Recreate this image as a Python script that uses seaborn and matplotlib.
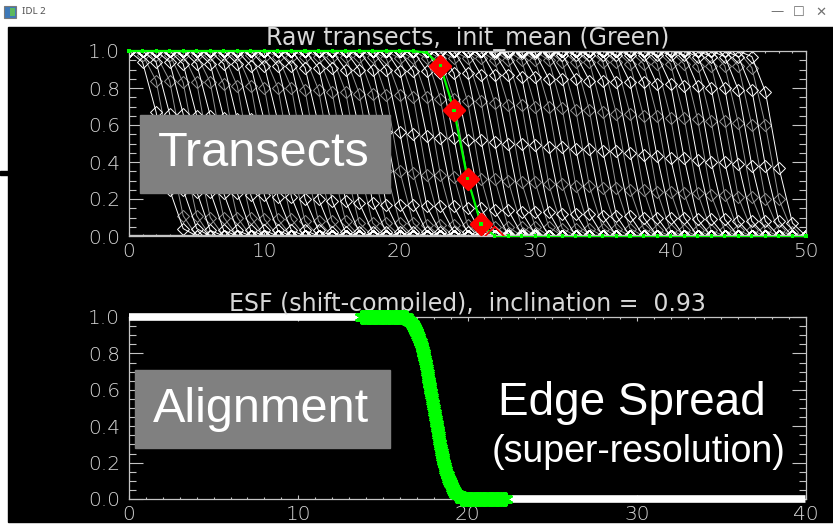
import numpy as np
import pandas as pd
import matplotlib
matplotlib.use("Agg")
import matplotlib.pyplot as plt
from matplotlib.patches import Rectangle
from matplotlib.ticker import MultipleLocator, FormatStrFormatter
import seaborn as sns

# ---------------------------------------------------------------- data
# pixel positions sampled along every transect
pixel_x = list(range(51))

# two interleaved sets of transects (plotted white and grey).
# start: index of the first edge sample (fully bright before it);
# levels: the edge samples (fully dark after them)
white_start = [1, 2, 3, 4, 5, 6, 7, 8, 9, 10, 11, 12, 13, 14, 15, 16, 17, 18, 19,
               20, 21, 22, 23, 24, 25, 26, 27, 27, 28, 29, 30, 31, 32, 33, 34, 35,
               36, 37, 38, 39, 40, 41, 42, 43, 44, 45, 46]
white_levels = [
    [.94, .67, .25, .04], [.94, .66, .25, .04], [.94, .66, .24, .03], [.93, .65, .24, .03],
    [.93, .65, .23, .03], [.93, .64, .23, .03], [.93, .63, .22, .03], [.93, .63, .22, .03],
    [.92, .62, .21, .03], [.92, .62, .21, .03], [.92, .61, .20, .03], [.92, .60, .20, .02],
    [.91, .60, .19, .02], [.91, .59, .19, .02], [.91, .58, .18, .02], [.90, .58, .18, .02],
    [.90, .57, .17, .02], [.90, .56, .17, .02], [.90, .56, .17, .02], [.89, .55, .16, .02],
    [.89, .54, .16, .02], [.89, .53, .16, .02], [.88, .53, .15, .02], [.88, .52, .15, .02],
    [.88, .52, .14, .01], [.87, .51, .14, .01], [.87, .50, .13, .01], [.99, .87, .50, .13],
    [.99, .86, .49, .13], [.99, .86, .48, .12], [.99, .85, .48, .12], [.99, .85, .47, .12],
    [.98, .85, .47, .11], [.98, .84, .46, .11], [.98, .84, .46, .11], [.98, .83, .45, .10],
    [.98, .83, .44, .10], [.98, .83, .43, .10], [.98, .82, .42, .10], [.98, .82, .42, .09],
    [.98, .81, .41, .09], [.98, .81, .40, .09], [.97, .80, .40, .08], [.97, .80, .39, .08],
    [.97, .79, .38, .08], [.97, .79, .38, .08], [.97, .78, .37, .07],
]
grey_start = list(range(1, 47))
grey_levels = [
    [.98, .84, .46, .11], [.98, .84, .45, .11], [.98, .83, .44, .10], [.98, .83, .43, .10],
    [.98, .83, .43, .10], [.98, .82, .42, .10], [.98, .81, .41, .09], [.98, .81, .41, .09],
    [.98, .80, .40, .09], [.97, .80, .39, .08], [.97, .80, .39, .08], [.97, .79, .38, .08],
    [.97, .79, .38, .08], [.97, .78, .37, .07], [.97, .78, .37, .07], [.97, .77, .36, .07],
    [.97, .77, .35, .07], [.97, .76, .35, .07], [.96, .76, .34, .06], [.96, .75, .33, .06],
    [.96, .75, .33, .06], [.96, .74, .32, .06], [.96, .74, .32, .05], [.96, .73, .31, .05],
    [.96, .73, .31, .05], [.96, .72, .30, .05], [.95, .71, .29, .05], [.95, .71, .29, .05],
    [.95, .70, .28, .04], [.95, .70, .28, .04], [.95, .69, .27, .04], [.94, .68, .27, .04],
    [.94, .68, .26, .04], [.94, .67, .26, .04], [.94, .66, .25, .04], [.94, .66, .25, .03],
    [.93, .65, .24, .03], [.93, .65, .24, .03], [.93, .64, .23, .03], [.93, .64, .23, .03],
    [.93, .63, .22, .03], [.92, .62, .22, .03], [.92, .62, .21, .03], [.92, .61, .21, .03],
    [.92, .60, .20, .03], [.91, .60, .20, .02],
]

# initial mean profile (green) and the samples marked in red
mean_level = [1.0] * 22 + [0.99, 0.92, 0.68, 0.31, 0.065] + [0.0] * 24
marked_pixels = [23, 24, 25, 26, 27]

# compiled edge spread function
inclination = 0.93
esf_centre = 18.0
esf_window = (13.7, 22.3)

top_title = "Raw transects,  init_mean (Green)"
bottom_title = f"ESF (shift-compiled),  inclination =  {inclination:.2f}"

# ---------------------------------------------------------------- tables
rows = []
sets = [(0, white_start, white_levels), (1, grey_start, grey_levels)]
for tone, starts, levels_list in sets:
    for j, (start, levels) in enumerate(zip(starts, levels_list)):
        profile = [1.0] * start + list(levels) + [0.0] * (len(pixel_x) - start - len(levels))
        order = 2 * j + tone  # the two sets alternate line by line
        for x, y in zip(pixel_x, profile):
            rows.append((order, tone, x, y))
transects = pd.DataFrame(rows, columns=["transect", "tone", "x", "level"])
transects = transects.sort_values(["transect", "x"]).reset_index(drop=True)

# shift every transect onto a common edge: distance to its own half-level
# crossing, measured across the inclined edge
normal = np.sin(inclination)
compiled = []
for k, g in transects.groupby("transect"):
    x = g["x"].to_numpy(float)
    y = g["level"].to_numpy(float)
    n = np.nonzero((y[:-1] >= 0.5) & (y[1:] < 0.5))[0][0]
    edge = x[n] + (y[n] - 0.5) / (y[n] - y[n + 1])
    compiled.append(pd.DataFrame({"x": (x - edge) * normal + esf_centre, "level": y}))
esf = pd.concat(compiled).sort_values("x").reset_index(drop=True)

lo, hi = esf_window
esf_in = esf[(esf.x >= lo) & (esf.x <= hi)]
esf_left = esf[(esf.x >= 0) & (esf.x < lo)]
esf_right = esf[(esf.x > hi) & (esf.x <= 40)]

mean_df = pd.DataFrame({"x": pixel_x, "level": mean_level})
marked = mean_df[mean_df.x.isin(marked_pixels)]

# ---------------------------------------------------------------- style
sns.set_theme(style="dark")
plt.rcParams["font.family"] = ["DejaVu Sans"]
plt.rcParams["font.weight"] = "light"

W, H = 833, 524
AXIS = "#c4c4c4"
LABEL = "#d8d8d8"
GREEN = "#00ff00"


def fx(px):
    return px / W


def fy(py):
    return 1 - py / H


fig = plt.figure(figsize=(W / 100, H / 100), dpi=100, facecolor="white")

# window body
fig.add_artist(Rectangle((fx(8), fy(522)), fx(W - 8), (522 - 27) / H,
                         transform=fig.transFigure, color="black", zorder=0))
fig.add_artist(Rectangle((0, fy(175)), fx(8), 4 / H,
                         transform=fig.transFigure, color="black", zorder=0))

# title bar
fig.add_artist(Rectangle((fx(4), fy(18)), fx(12), 12 / H, transform=fig.transFigure,
                         facecolor="#3d78b8", edgecolor="#7a7a7a", lw=0.8))
fig.add_artist(Rectangle((fx(10), fy(16)), fx(5), 8 / H, transform=fig.transFigure,
                         facecolor="#5cb85c", edgecolor="none"))
fig.text(fx(22), fy(12), "IDL 2", fontsize=7, color="#505050", va="center",
         family=["Noto Sans", "DejaVu Sans"], weight="normal")
for px, glyph in [(777, "\u2014"), (799, "\u2610"), (821, "\u2715")]:
    fig.text(fx(px), fy(12), glyph, fontsize=9.5, color="#707070", va="center",
             ha="center", family=["DejaVu Sans"], weight="normal")


def style_axes(ax, xmax):
    ax.set_facecolor("black")
    ax.set_xlim(0, xmax)
    ax.set_ylim(0, 1)
    ax.grid(False)
    for s in ax.spines.values():
        s.set_visible(True)
        s.set_color(AXIS)
        s.set_linewidth(0.9)
    ax.xaxis.set_major_locator(MultipleLocator(10))
    ax.xaxis.set_minor_locator(MultipleLocator(1))
    ax.yaxis.set_major_locator(MultipleLocator(0.2))
    ax.yaxis.set_minor_locator(MultipleLocator(0.05))
    ax.yaxis.set_major_formatter(FormatStrFormatter("%.1f"))
    ax.tick_params(which="both", direction="in", top=True, right=True,
                   bottom=True, left=True, colors=AXIS, labelcolor=LABEL,
                   labelsize=14.5, width=0.8)
    ax.tick_params(axis="y", which="major", length=10, pad=6.5)
    ax.tick_params(axis="y", which="minor", length=5)
    ax.tick_params(axis="x", which="major", length=3, pad=4.5)
    ax.tick_params(axis="x", which="minor", length=1.6)
    ax.set_xlabel("")
    ax.set_ylabel("")


# ---------------------------------------------------------------- top panel
ax1 = fig.add_axes([fx(129), fy(236), fx(677), 185 / H])
for tone, colour in [(1, "#969696"), (0, "#ffffff")]:
    sns.lineplot(data=transects[transects.tone == tone], x="x", y="level",
                 units="transect", estimator=None, sort=False, color=colour,
                 lw=0.7, marker="D", markersize=6.5, markerfacecolor="none",
                 markeredgecolor=colour, markeredgewidth=0.7, legend=False, ax=ax1)

sns.lineplot(data=mean_df, x="x", y="level", color=GREEN, lw=1.6, sort=False,
             estimator=None, ax=ax1, zorder=4, clip_on=False)
ax1.axhline(0, color=AXIS, lw=2.4, zorder=4.5)
sns.scatterplot(data=marked.iloc[:-1], x="x", y="level", marker="D", s=110,
                color="#ff0000", edgecolor="#ff0000", linewidth=2, ax=ax1,
                zorder=5, legend=False)
sns.scatterplot(data=marked.iloc[-1:], x="x", y="level", marker="D", s=90,
                facecolor="none", edgecolor="#ff0000", linewidth=1.2, ax=ax1,
                zorder=5, legend=False)
sns.scatterplot(data=mean_df, x="x", y="level", marker="s", s=5, color=GREEN,
                edgecolor="none", ax=ax1, zorder=6, legend=False, clip_on=False)
style_axes(ax1, 50)
ax1.set_title(top_title, color=LABEL, fontsize=17, pad=3)

# ---------------------------------------------------------------- bottom panel
ax2 = fig.add_axes([fx(129), fy(499), fx(677), 182 / H])
for part in (esf_left, esf_right):
    sns.lineplot(data=part, x="x", y="level", color="white", lw=5.5,
                 estimator=None, sort=True, ax=ax2, zorder=3, clip_on=False,
                 solid_capstyle="butt")
sns.lineplot(data=esf_in, x="x", y="level", color="#8c8c8c", lw=1,
             estimator=None, sort=True, ax=ax2, zorder=3)
sns.scatterplot(data=esf_in, x="x", y="level", marker=(6, 2, 0), s=70,
                color=GREEN, linewidth=1.5, ax=ax2, zorder=4, clip_on=False,
                legend=False)
style_axes(ax2, 40)
ax2.set_title(bottom_title, color=LABEL, fontsize=17, pad=4)

# ---------------------------------------------------------------- annotations
SANS = ["Liberation Sans", "DejaVu Sans"]
fig.add_artist(Rectangle((fx(140), fy(193)), fx(250), 78 / H,
                         transform=fig.transFigure, color="#808080", zorder=10))
fig.text(fx(264), fy(154), "Transects", fontsize=35, color="white",
         ha="center", va="center", family=SANS, weight="normal", zorder=11)
fig.add_artist(Rectangle((fx(135), fy(448)), fx(255), 78 / H,
                         transform=fig.transFigure, color="#808080", zorder=10))
fig.text(fx(261), fy(409), "Alignment", fontsize=35, color="white",
         ha="center", va="center", family=SANS, weight="normal", zorder=11)
fig.text(fx(632), fy(415), "Edge Spread", fontsize=33, color="white",
         ha="center", va="baseline", family=SANS, weight="normal", zorder=11)
fig.text(fx(639), fy(462), "(super-resolution)", fontsize=27, color="white",
         ha="center", va="baseline", family=SANS, weight="normal", zorder=11)

fig.savefig("out.png", dpi=100, facecolor=fig.get_facecolor())
